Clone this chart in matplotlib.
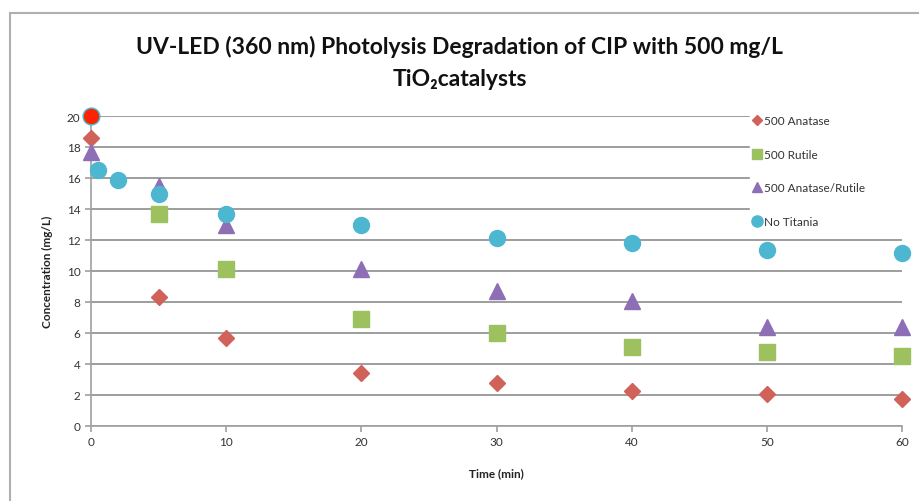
import matplotlib
matplotlib.use("Agg")
import matplotlib.pyplot as plt
from matplotlib.patches import Rectangle

plt.rcParams['font.family'] = ['Lato', 'DejaVu Sans']

# data
t_anatase = [0, 5, 10, 20, 30, 40, 50, 60]
c_anatase = [18.6, 8.3, 5.7, 3.45, 2.8, 2.25, 2.05, 1.75]

t_rutile = [5, 10, 20, 30, 40, 50, 60]
c_rutile = [13.7, 10.1, 6.9, 6.0, 5.1, 4.8, 4.5]

t_mix = [0, 5, 10, 20, 30, 40, 50, 60]
c_mix = [17.7, 15.5, 13.0, 10.1, 8.7, 8.05, 6.4, 6.4]

t_none = [0, 0.5, 2, 5, 10, 20, 30, 40, 50, 60]
c_none = [20, 16.5, 15.9, 15.0, 13.7, 13.0, 12.1, 11.8, 11.35, 11.15]

t_start = [0]
c_start = [20]

fig = plt.figure(figsize=(9.19, 5.02), dpi=100)
fig.patches.append(Rectangle((10/919, -0.1), 1.2, (502-14)/502 + 0.1, transform=fig.transFigure,
                             fill=False, edgecolor='#b0b0b0', lw=1.5))
ax = fig.add_axes([91/919, 75/502, (902-91)/919, (427-117)/502])

ax.set_xlim(0, 60)
ax.set_ylim(0, 20)
ax.set_xticks(range(0, 61, 10))
ax.set_yticks(range(0, 21, 2))
ax.yaxis.grid(True, color='#8c8c8c', lw=1.2)
ax.set_axisbelow(True)
for s in ['top', 'right']:
    ax.spines[s].set_visible(False)
for s in ['left', 'bottom']:
    ax.spines[s].set_color('#a0a0a0')
    ax.spines[s].set_linewidth(1.2)
ax.tick_params(colors='#a0a0a0', labelcolor='#333333', labelsize=8.5, length=4, width=1.2)

ax.plot(t_anatase, c_anatase, 'D', color='#d0625a', ms=8, mec='#d0625a', clip_on=False, zorder=3, label='500 Anatase')
ax.plot(t_rutile, c_rutile, 's', color='#9dc15f', ms=11, clip_on=False, zorder=3, label='500 Rutile')
ax.plot(t_mix, c_mix, '^', color='#8e6fb5', ms=11, clip_on=False, zorder=3, label='500 Anatase/Rutile')
ax.plot(t_none, c_none, 'o', color='#4db6d1', ms=11.5, clip_on=False, zorder=3, label='No Titania')
ax.plot(t_start, c_start, 'o', color='#ff2200', mec='#4db6d1', mew=1, ms=12, clip_on=False, zorder=4)

leg = ax.legend(loc='upper left', bbox_to_anchor=(744/919, 1 - 112/502, (912-744)/919, 0.01),
                bbox_transform=fig.transFigure, mode='expand',
                frameon=True, fancybox=False, edgecolor='white', framealpha=1, borderpad=0.3,
                handlelength=0.6, handletextpad=0.3, labelspacing=1.9, fontsize=8.5, markerscale=0.7)
leg.set_zorder(5)
for txt in leg.get_texts():
    txt.set_color('#333333')

ax.set_xlabel('Time (min)', fontsize=8.5, fontweight='bold', color='#222222', labelpad=14)
ax.set_ylabel('Concentration (mg/L)', fontsize=8.5, fontweight='bold', color='#222222', labelpad=10)

fig.text(0.5, 1 - 47/502, 'UV-LED (360 nm) Photolysis Degradation of CIP with 500 mg/L',
         ha='center', va='center', fontsize=16.5, fontweight='bold', color='#111111')
fig.text(0.5, 1 - 79/502, 'TiO\u2082catalysts', ha='center', va='center', fontsize=16.5,
         fontweight='bold', color='#111111')

fig.savefig('out.png', dpi=100)
